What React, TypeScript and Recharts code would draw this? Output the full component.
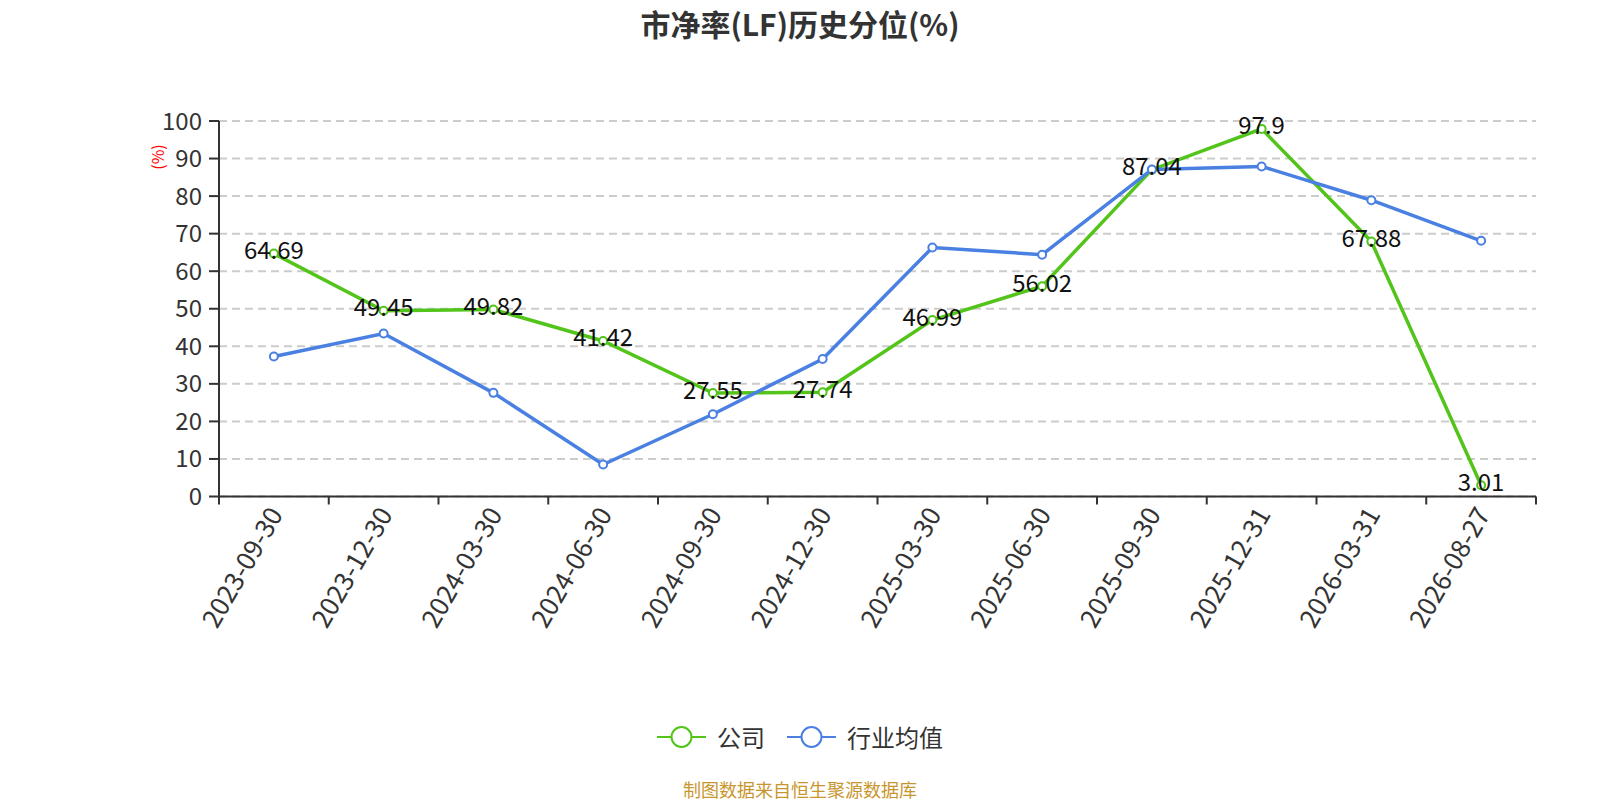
import React from "react";
import {
	CartesianGrid,
	LabelList,
	Legend,
	Line,
	LineChart,
	XAxis,
	YAxis,
} from "recharts";

// chart values
const dates = [
	"2023-09-30",
	"2023-12-30",
	"2024-03-30",
	"2024-06-30",
	"2024-09-30",
	"2024-12-30",
	"2025-03-30",
	"2025-06-30",
	"2025-09-30",
	"2025-12-31",
	"2026-03-31",
	"2026-08-27",
];
const company = [64.69, 49.45, 49.82, 41.42, 27.55, 27.74, 46.99, 56.02, 87.04, 97.9, 67.88, 3.01];
const industry = [37.3, 43.4, 27.6, 8.5, 21.9, 36.6, 66.3, 64.4, 87.1, 87.9, 78.9, 68.1];
const yTicks = [0, 10, 20, 30, 40, 50, 60, 70, 80, 90, 100];

const FONT = '"Noto Sans CJK SC", "Noto Sans", sans-serif';
const GREEN = "#52c41a";
const BLUE = "#4a80e2";

const W = 1600;
const H = 800;
const LEFT = 219;
const RIGHT = 64;
const TOP = 121;
const AXIS_Y = 496.5;
const BAND = (W - LEFT - RIGHT) / dates.length;

const data = dates.map((d, i) => ({ date: d, company: company[i], industry: industry[i] }));

// tick marks sit on the band edges, labels on the band centers
function DateTick(props: any) {
	const { x, index, payload } = props;
	const last = index === dates.length - 1;
	return (
		<g>
			<line x1={x - BAND / 2} x2={x - BAND / 2} y1={AXIS_Y} y2={AXIS_Y + 8} stroke="#333" strokeWidth={2} />
			{last && (
				<line x1={x + BAND / 2} x2={x + BAND / 2} y1={AXIS_Y} y2={AXIS_Y + 8} stroke="#333" strokeWidth={2} />
			)}
			<text
				x={x}
				y={AXIS_Y + 12}
				transform={`rotate(-60 ${x} ${AXIS_Y + 12})`}
				textAnchor="end"
				dominantBaseline="central"
				fontSize={26}
				fill="#333"
				fontFamily={FONT}
			>
				{payload.value}
			</text>
		</g>
	);
}

function LegendIcon({ color }: { color: string }) {
	return (
		<svg width={49} height={24} style={{ display: "block" }}>
			<line x1={0} x2={49} y1={12} y2={12} stroke={color} strokeWidth={2} />
			<circle cx={24.5} cy={12} r={10} fill="#fff" stroke={color} strokeWidth={2} />
		</svg>
	);
}

function ChartLegend() {
	const items = [
		{ name: "公司", color: GREEN },
		{ name: "行业均值", color: BLUE },
	];
	return (
		<div style={{ display: "flex", justifyContent: "center", alignItems: "center", gap: 22 }}>
			{items.map((it) => (
				<div key={it.name} style={{ display: "flex", alignItems: "center", gap: 11 }}>
					<LegendIcon color={it.color} />
					<span style={{ fontSize: 24, color: "#333", fontFamily: FONT, lineHeight: "24px" }}>{it.name}</span>
				</div>
			))}
		</div>
	);
}

export default function App() {
	return (
		<div style={{ position: "absolute", left: 0, top: 0, width: W, height: H, background: "#fff", fontFamily: FONT }}>
			<div
				style={{
					position: "absolute",
					left: 0,
					top: 3,
					width: W,
					textAlign: "center",
					fontSize: 30,
					fontWeight: "bold",
					color: "#333",
					lineHeight: "40px",
				}}
			>
				市净率(LF)历史分位(%)
			</div>
			<div
				style={{
					position: "absolute",
					left: 157 - 20,
					top: 157 - 10,
					width: 40,
					height: 20,
					lineHeight: "20px",
					textAlign: "center",
					fontSize: 16,
					color: "red",
					transform: "rotate(-90deg)",
				}}
			>
				(%)
			</div>
			<LineChart width={W} height={H} data={data} margin={{ top: TOP, right: RIGHT, left: 0, bottom: 0 }}>
				<CartesianGrid vertical={false} stroke="#ccc" strokeWidth={2} strokeDasharray="8 5" />
				<XAxis
					dataKey="date"
					height={H - AXIS_Y}
					interval={0}
					padding={{ left: BAND / 2, right: BAND / 2 }}
					tickLine={false}
					axisLine={{ stroke: "#333", strokeWidth: 2 }}
					tick={<DateTick />}
				/>
				<YAxis
					width={LEFT}
					domain={[0, 100]}
					ticks={yTicks}
					interval={0}
					tickSize={10}
					tickMargin={7}
					axisLine={{ stroke: "#333", strokeWidth: 2 }}
					tickLine={{ stroke: "#333", strokeWidth: 2 }}
					tick={{ fontSize: 24, fill: "#333", fontFamily: FONT }}
				/>
				<Legend
					layout="horizontal"
					verticalAlign="middle"
					align="center"
					wrapperStyle={{ top: 725, left: 0, width: W }}
					content={() => <ChartLegend />}
				/>
				{/* labels drawn first so the markers sit over them */}
				<Line
					dataKey="company"
					stroke="none"
					dot={false}
					activeDot={false}
					legendType="none"
					isAnimationActive={false}
				>
					<LabelList dataKey="company" position="center" dy={-3} fontSize={24} fill="#111" fontFamily={FONT} />
				</Line>
				<Line
					dataKey="company"
					name="公司"
					stroke={GREEN}
					strokeWidth={3.5}
					dot={{ r: 4, fill: "#fff", stroke: GREEN, strokeWidth: 2 }}
					isAnimationActive={false}
				/>
				<Line
					dataKey="industry"
					name="行业均值"
					stroke={BLUE}
					strokeWidth={3.5}
					dot={{ r: 4, fill: "#fff", stroke: BLUE, strokeWidth: 2 }}
					isAnimationActive={false}
				/>
			</LineChart>
			<div
				style={{
					position: "absolute",
					left: 0,
					top: 778,
					width: W,
					textAlign: "center",
					fontSize: 18,
					lineHeight: "22px",
					color: "#c8962e",
				}}
			>
				制图数据来自恒生聚源数据库
			</div>
		</div>
	);
}
